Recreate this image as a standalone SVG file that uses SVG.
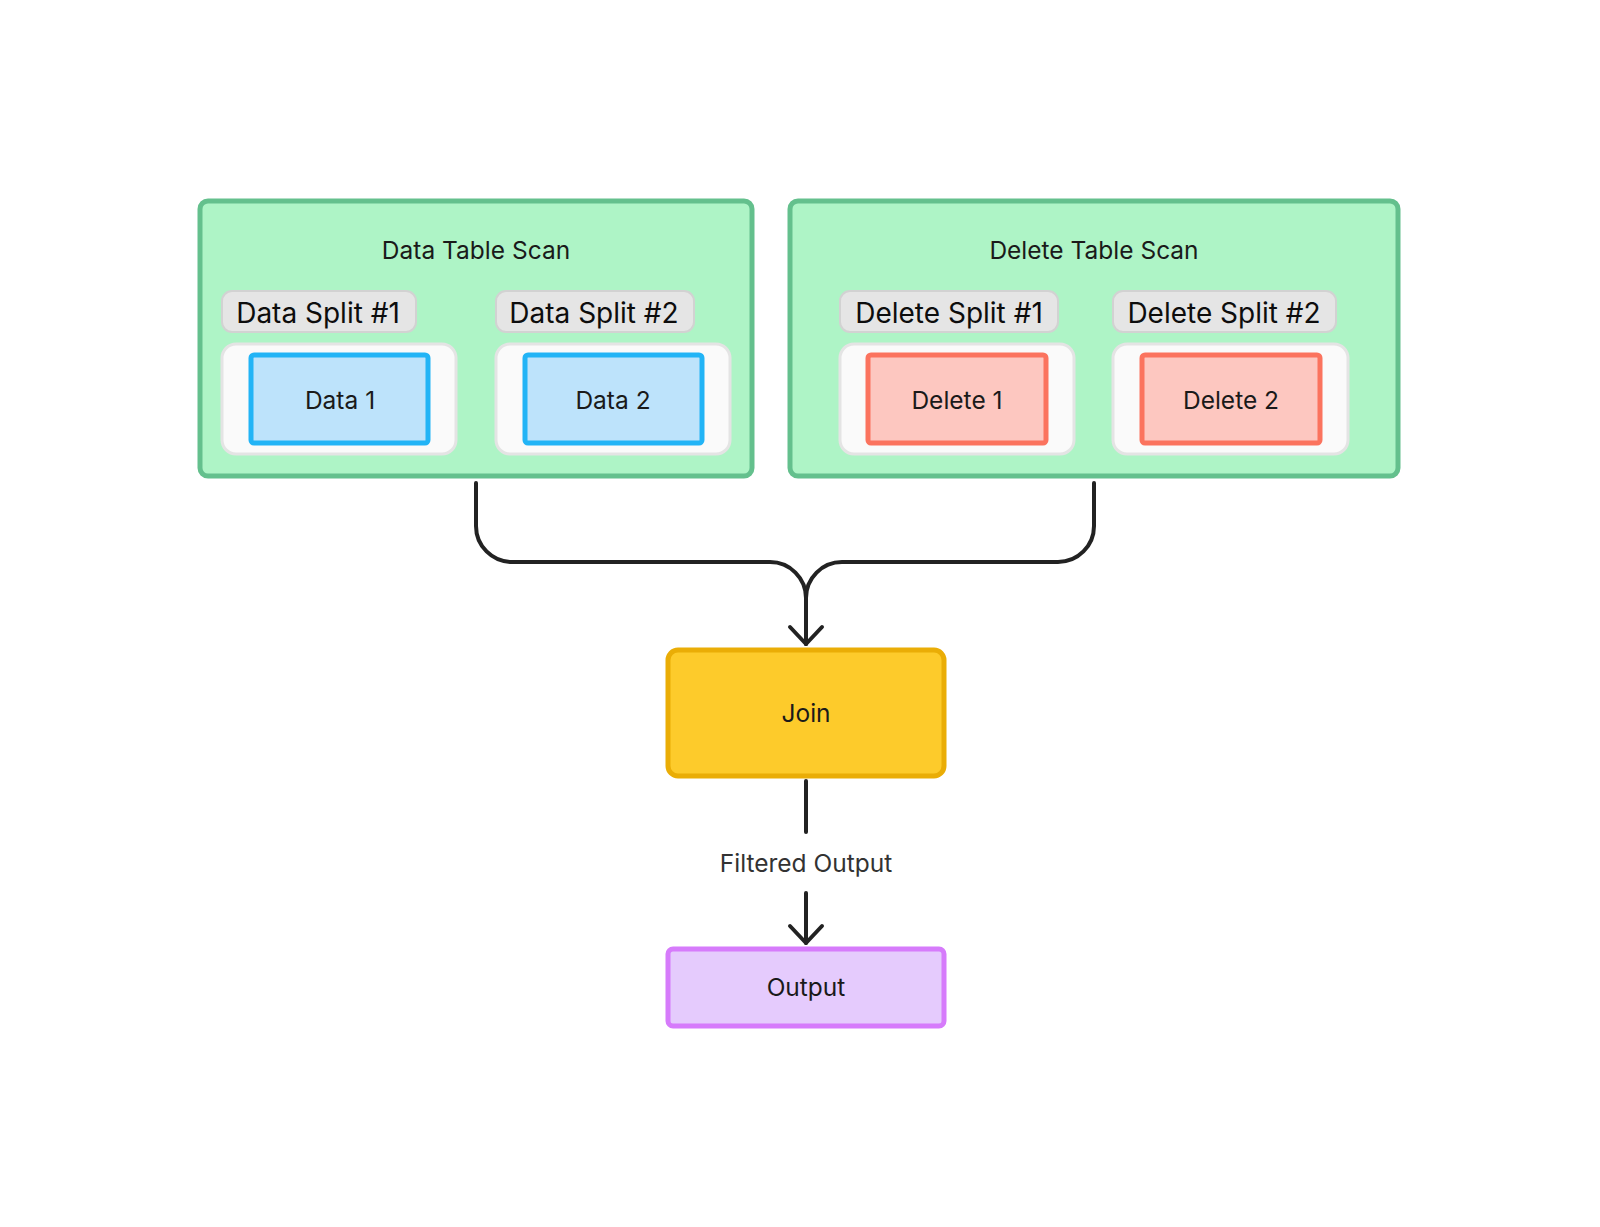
<svg xmlns="http://www.w3.org/2000/svg" width="1600" height="1227" viewBox="0 0 1600 1227">
<defs>
<style>
text{font-family:Inter,"Noto Sans","Liberation Sans",sans-serif;fill:#1a1a1a;text-anchor:middle}
.scan{fill:#aef4c6;stroke:#64c08d;stroke-width:5}
.pill{fill:#e5e5e5;stroke:#d2d2d2;stroke-width:2}
.inner{fill:#fafafa;stroke:#e4e4e4;stroke-width:3}
.data{fill:#bde3fb;stroke:#22b4f6;stroke-width:5}
.del{fill:#fdc7c0;stroke:#fb735e;stroke-width:5}
.t24{font-size:24.5px}
.t28{font-size:28px;fill:#0d0d0d}
.conn{fill:none;stroke:#222;stroke-width:4;stroke-linecap:round;stroke-linejoin:round}
</style>
<marker id="arr" viewBox="-20 -20 40 40" markerWidth="40" markerHeight="40" markerUnits="userSpaceOnUse" refX="0" refY="0" orient="auto">
<path d="M-17,-16 L0,0 L-17,16" fill="none" stroke="#222" stroke-width="4" stroke-linecap="round" stroke-linejoin="round"/>
</marker>
</defs>
<rect width="1600" height="1227" fill="#ffffff"/>

<g id="data-table-scan">
<rect class="scan" x="200" y="201" width="552" height="275" rx="8"/>
<text class="t24" x="476" y="259">Data Table Scan</text>
</g>
<g id="data-split-1">
<rect class="pill" x="222" y="291" width="194" height="41" rx="10"/>
<text class="t28" x="318" y="323">Data Split #1</text>
<rect class="inner" x="222" y="344" width="234" height="110" rx="14"/>
</g>
<g id="data-1">
<rect class="data" x="251" y="355" width="177" height="88" rx="3"/>
<text class="t24" x="340" y="409">Data 1</text>
</g>
<g id="data-split-2">
<rect class="pill" x="496" y="291" width="198" height="41" rx="10"/>
<text class="t28" x="594" y="323">Data Split #2</text>
<rect class="inner" x="496" y="344" width="234" height="110" rx="14"/>
</g>
<g id="data-2">
<rect class="data" x="525" y="355" width="177" height="88" rx="3"/>
<text class="t24" x="613" y="409">Data 2</text>
</g>

<g id="delete-table-scan">
<rect class="scan" x="790" y="201" width="608" height="275" rx="8"/>
<text class="t24" x="1094" y="259">Delete Table Scan</text>
</g>
<g id="delete-split-1">
<rect class="pill" x="840" y="291" width="218" height="41" rx="10"/>
<text class="t28" x="949" y="323">Delete Split #1</text>
<rect class="inner" x="840" y="344" width="234" height="110" rx="14"/>
</g>
<g id="delete-1">
<rect class="del" x="868" y="355" width="178" height="88" rx="3"/>
<text class="t24" x="957" y="409">Delete 1</text>
</g>
<g id="delete-split-2">
<rect class="pill" x="1113" y="291" width="223" height="41" rx="10"/>
<text class="t28" x="1224" y="323">Delete Split #2</text>
<rect class="inner" x="1113" y="344" width="235" height="110" rx="14"/>
</g>
<g id="delete-2">
<rect class="del" x="1142" y="355" width="178" height="88" rx="3"/>
<text class="t24" x="1231" y="409">Delete 2</text>
</g>

<g id="join">
<rect x="668" y="650" width="276" height="126" rx="10" fill="#fdcb2b" stroke="#eaad06" stroke-width="5"/>
<text class="t24" x="806" y="722">Join</text>
</g>
<g id="output">
<rect x="668" y="949" width="276" height="77" rx="5" fill="#e5cbfd" stroke="#d67bfb" stroke-width="5"/>
<text class="t24" x="806" y="996">Output</text>
</g>

<g id="connectors">
<path class="conn" d="M476,483 V526 A36,36 0 0 0 512,562 H770 A36,36 0 0 1 806,598 V644" marker-end="url(#arr)"/>
<path class="conn" d="M1094,483 V526 A36,36 0 0 1 1058,562 H842 A36,36 0 0 0 806,598 V644"/>
<path class="conn" d="M806,781 V832"/>
<path class="conn" d="M806,893 V943" marker-end="url(#arr)"/>
<text class="t24" x="806" y="872" style="fill:#333">Filtered Output</text>
</g>
</svg>
